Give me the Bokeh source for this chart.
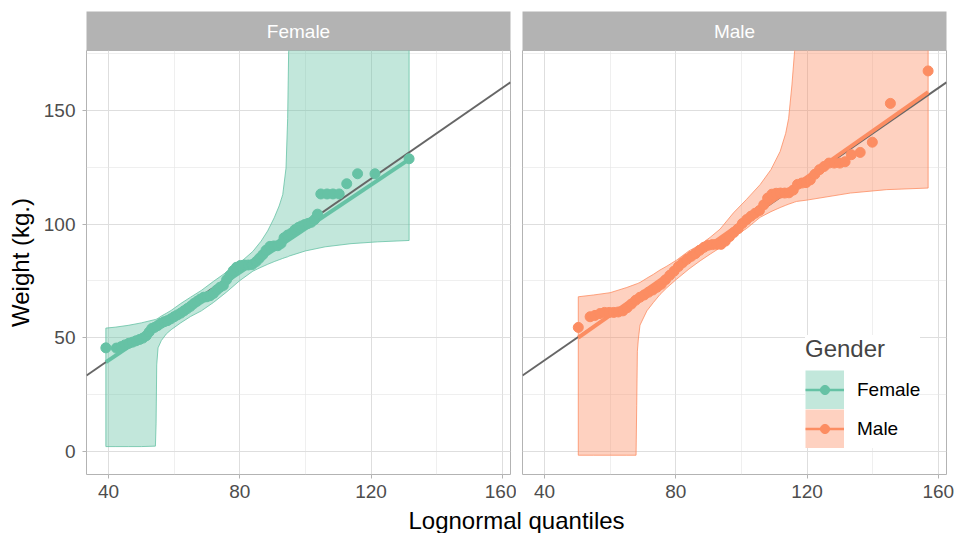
from bokeh.plotting import figure
from bokeh.layouts import column, row
from bokeh.models import Range1d, FixedTicker, Legend, LegendItem
from bokeh.embed import file_html
from bokeh.resources import INLINE
from bokeh.core.properties import value

FONT = "Liberation Sans"
NAN = float("nan")

genders = ["Female", "Male"]
colors = {"Female": "#66C2A5", "Male": "#FC8D62"}

x_ticks = [40, 80, 120, 160]
x_minor = [60, 100, 140]
y_ticks = [0, 50, 100, 150]
y_minor = [25, 75, 125, 175]
x_limits = (33.3, 162.5)
y_limits = (-10.3, 176.5)

# identity reference line
ref_slope = 1.0
ref_intercept = 0.0

# ---- Female: lognormal theoretical quantiles vs sorted weights ----
female_x = [39.2, 42.4, 43.8, 45.0, 46.2, 47.3, 48.4, 49.5, 50.5, 51.5,
            52.4, 53.2, 54.0, 55.0, 56.0, 57.0, 58.0, 59.0, 60.0, 61.0,
            62.0, 63.0, 64.0, 65.0, 66.0, 67.0, 68.0, 69.0, 70.0, 71.0,
            72.0, 73.0, 74.0, 75.0, 76.0, 77.0, 78.0, 79.0, 80.2, 81.4,
            82.6, 83.8, 85.0, 86.0, 87.0, 88.0, 89.2, 90.4, 91.6, 92.6,
            93.5, 94.6, 95.7, 96.8, 97.8, 98.8, 99.8, 100.8, 101.8, 102.8,
            103.7, 104.7, 106.6, 108.4, 110.3, 112.6, 115.9, 121.2, 131.6]
female_y = [45.5, 45.4, 46.0, 46.8, 47.5, 48.0, 48.6, 49.2, 49.8, 50.8,
            52.5, 54.0, 54.5, 55.3, 56.3, 57.0, 57.5, 58.3, 59.2, 60.0,
            60.8, 61.8, 62.8, 63.8, 65.0, 66.0, 67.0, 67.8, 68.0, 68.5,
            69.5, 71.0, 72.2, 73.0, 75.5, 77.5, 79.5, 81.0, 81.8, 82.0,
            82.0, 82.2, 83.5, 85.0, 86.5, 88.5, 90.2, 90.4, 90.5, 91.5,
            94.0, 95.2, 96.0, 97.5, 98.5, 99.2, 99.8, 100.3, 100.8, 102.0,
            104.4, 113.3, 113.3, 113.3, 113.3, 117.8, 122.2, 122.2, 128.8]
female_fit = (1.3, 0.967)  # intercept, slope of the fitted qq line
female_band_x = [39.2, 42.0, 46.0, 50.0, 54.3, 54.5, 54.7, 55.1, 56.1, 57.6,
                 59.1, 62.0, 65.0, 68.3, 72.0, 75.9, 79.9, 84.0, 86.5, 88.5,
                 90.5, 92.0, 93.1, 94.1, 94.6, 94.9, 95.2, 100.0, 106.0, 113.9,
                 122.0, 131.6]
female_band_lower = [2.0, 2.0, 2.0, 2.0, 2.2, 12.0, 38.0, 45.5, 48.7, 51.6,
                     53.5, 56.5, 59.3, 61.8, 65.5, 70.0, 75.0, 79.3, 81.0, 82.3,
                     83.5, 84.3, 84.9, 85.4, 85.6, 85.8, 86.0, 88.2, 90.0, 91.4,
                     92.2, 92.8]
female_band_upper = [54.2, 54.6, 55.4, 56.5, 58.0, 58.1, 58.2, 58.5, 59.5, 60.7,
                     62.0, 65.0, 67.8, 70.8, 74.8, 78.8, 82.8, 88.0, 92.5, 97.0,
                     102.8, 108.0, 113.0, 124.7, 146.6, 176.0, 215.0, 300.0, 330.0, 360.0,
                     380.0, 400.0]

# ---- Male ----
male_x = [50.3, 53.9, 55.4, 56.9, 58.3, 59.7, 61.1, 62.5, 63.9, 65.2,
          66.5, 67.8, 69.1, 70.4, 71.7, 73.0, 74.3, 75.6, 76.9, 78.2,
          79.5, 80.8, 82.1, 83.4, 84.7, 86.0, 87.3, 88.6, 89.9, 91.2,
          92.5, 93.8, 95.1, 96.4, 97.7, 99.0, 100.3, 101.6, 102.9, 104.2,
          105.5, 106.8, 108.0, 109.3, 110.6, 111.9, 113.2, 114.5, 115.8, 117.1,
          118.4, 119.7, 121.0, 122.4, 123.8, 125.2, 126.7, 128.3, 130.0, 131.6,
          133.5, 136.2, 139.9, 145.4, 156.9]
male_y = [54.5, 59.2, 59.8, 60.6, 61.1, 61.1, 61.1, 61.3, 61.8, 63.2,
          64.8, 66.5, 67.8, 68.8, 70.0, 71.0, 72.2, 73.5, 75.5, 77.5,
          79.3, 81.3, 83.0, 84.5, 85.8, 87.0, 88.5, 89.8, 90.7, 91.0,
          91.1, 91.1, 92.5, 94.5, 96.3, 98.0, 100.3, 102.0, 103.5, 104.8,
          106.0, 108.5, 111.5, 113.2, 113.6, 113.7, 113.7, 113.8, 115.0, 117.5,
          118.1, 118.3, 119.5, 122.0, 124.0, 125.4, 126.9, 126.9, 126.9, 127.5,
          130.6, 131.6, 136.1, 153.2, 167.5]
male_fit = (-1.05, 1.015)
male_band_x = [50.3, 55.0, 60.0, 65.1, 67.9, 68.1, 68.3, 68.6, 69.1, 71.2,
               73.2, 75.2, 77.3, 80.3, 84.0, 87.4, 90.5, 93.5, 97.6, 101.5,
               105.7, 109.0, 111.8, 113.5, 114.4, 115.4, 116.2, 116.8, 120.0, 133.2,
               144.3, 156.9]
male_band_lower = [-1.8, -1.8, -1.8, -1.8, -1.8, 20.0, 44.0, 49.4, 55.5, 61.8,
                   65.5, 69.0, 72.0, 75.8, 80.2, 83.8, 86.8, 89.6, 94.5, 98.0,
                   103.0, 105.5, 107.3, 108.3, 108.8, 109.3, 109.7, 110.0, 110.6, 113.7,
                   115.2, 115.9]
male_band_upper = [68.0, 68.8, 69.8, 72.1, 73.6, 73.7, 73.8, 74.0, 74.3, 76.2,
                   77.9, 79.8, 81.5, 84.2, 88.2, 90.9, 94.2, 97.8, 105.0, 110.8,
                   117.4, 124.0, 132.0, 140.0, 146.6, 161.3, 176.0, 200.0, 280.0, 340.0,
                   380.0, 400.0]

data = {
    "Female": (female_x, female_y, female_fit, female_band_x, female_band_lower, female_band_upper),
    "Male": (male_x, male_y, male_fit, male_band_x, male_band_lower, male_band_upper),
}

FRAME_W = 424
FRAME_H = 424
BOTTOM = 33
LEFT_OUT = 86   # space left of the left panel (page margin included)
GAP = 6
RIGHT_OUT = 8


def style_axes(p):
    for ax in p.axis:
        ax.axis_line_color = None
        ax.major_tick_line_color = "#B3B3B3"
        ax.major_tick_out = 4
        ax.major_tick_in = 0
        ax.minor_tick_line_color = None
        ax.major_label_text_font = FONT
        ax.major_label_text_font_size = "19px"
        ax.major_label_text_color = "#4D4D4D"
        ax.axis_label_text_font = FONT
        ax.axis_label_text_font_style = "normal"
        ax.axis_label_text_font_size = "24px"
        ax.axis_label_text_color = "black"
    p.xaxis.major_label_standoff = 6
    p.yaxis.major_label_standoff = 7
    for g in (p.xgrid, p.ygrid):
        g.grid_line_color = "#DEDEDE"
        g.grid_line_width = 1
        g.minor_grid_line_color = "#E4E4E4"
        g.minor_grid_line_width = 0.6


def make_panel(name, width, left, right, show_y):
    qx, qy, fit, bx, blo, bhi = data[name]
    c = colors[name]
    p = figure(width=width, height=FRAME_H + BOTTOM,
               x_range=Range1d(*x_limits), y_range=Range1d(*y_limits),
               output_backend="svg", toolbar_location=None,
               min_border_left=left, min_border_right=right,
               min_border_top=0, min_border_bottom=BOTTOM)
    p.outline_line_color = "#B3B3B3"
    p.outline_line_width = 1
    p.background_fill_color = "white"
    p.border_fill_color = "white"
    p.xaxis.ticker = FixedTicker(ticks=x_ticks, minor_ticks=x_minor)
    p.yaxis.ticker = FixedTicker(ticks=y_ticks, minor_ticks=y_minor)
    style_axes(p)
    if show_y:
        p.yaxis.axis_label = "Weight (kg.)"
        p.yaxis.axis_label_standoff = 7
    else:
        p.yaxis.visible = False

    p.patch(x=bx + bx[::-1], y=blo + bhi[::-1],
            fill_color=c, fill_alpha=0.4, line_color=c, line_width=0.8)
    lx = list(x_limits)
    p.line(x=lx, y=[ref_intercept + ref_slope * v for v in lx],
           line_color="#666666", line_width=2)
    fx = [min(qx), max(qx)]
    p.line(x=fx, y=[fit[0] + fit[1] * v for v in fx], line_color=c, line_width=4)
    p.scatter(x=qx, y=qy, size=10, fill_color=c, line_color=c)
    return p


def make_strip(name, width, left, right):
    s = figure(width=width, height=50, x_range=Range1d(0, 1), y_range=Range1d(0, 1),
               output_backend="svg", toolbar_location=None,
               min_border_left=left, min_border_right=right,
               min_border_top=11, min_border_bottom=0,
               x_axis_location=None, y_axis_location=None)
    s.grid.visible = False
    s.outline_line_color = None
    s.background_fill_color = "#B3B3B3"
    s.border_fill_color = "white"
    s.text(x=[0.5], y=[0.5], text=[name], text_align="center", text_baseline="middle",
           text_color="white", text_font=value(FONT), text_font_size="19px")
    return s


LEFT_W = LEFT_OUT + FRAME_W + GAP
RIGHT_W = GAP + FRAME_W + RIGHT_OUT

p_f = make_panel("Female", LEFT_W, LEFT_OUT, GAP, True)
p_m = make_panel("Male", RIGHT_W, GAP, RIGHT_OUT, False)
s_f = make_strip("Female", LEFT_W, LEFT_OUT, GAP)
s_m = make_strip("Male", RIGHT_W, GAP, RIGHT_OUT)

# legend key glyphs (single NaN point: never drawn in the panel, only in the legend)
key_box, key_line, key_pt = {}, {}, {}
for g in genders:
    c = colors[g]
    key_box[g] = p_m.line(x=[NAN], y=[NAN], line_color=c, line_alpha=0.4,
                          line_width=39, line_cap="butt")
    key_line[g] = p_m.line(x=[NAN], y=[NAN], line_color=c, line_width=2.5)
    key_pt[g] = p_m.scatter(x=[NAN], y=[NAN], size=10, fill_color=c, line_color=c)

LEG_X, LEG_Y, PAD = 283, 26, 12
leg_a = Legend(items=[LegendItem(label=g, renderers=[key_box[g], key_line[g]]) for g in genders],
               title="Gender", location=(LEG_X, LEG_Y), margin=0, padding=PAD,
               glyph_width=39, glyph_height=39, spacing=0, label_standoff=13,
               label_text_font=FONT, label_text_font_size="19px", label_text_color="black",
               title_text_font=FONT, title_text_font_size="24px", title_text_font_style="normal",
               title_standoff=7, background_fill_color="white", background_fill_alpha=1,
               border_line_color=None)
leg_b = Legend(items=[LegendItem(label="", renderers=[key_pt[g]]) for g in genders],
               location=(LEG_X + 8, LEG_Y), margin=0, padding=PAD,
               glyph_width=23, glyph_height=39, spacing=0, label_standoff=0,
               label_text_font=FONT, label_text_font_size="19px",
               background_fill_alpha=0, border_line_color=None)
p_m.add_layout(leg_a)
p_m.add_layout(leg_b)

TOTAL_W = LEFT_W + RIGHT_W
t = figure(width=TOTAL_W, height=26, x_range=Range1d(0, 1), y_range=Range1d(0, 1),
           output_backend="svg", toolbar_location=None,
           min_border_left=LEFT_OUT, min_border_right=RIGHT_OUT,
           min_border_top=0, min_border_bottom=0,
           x_axis_location=None, y_axis_location=None)
t.grid.visible = False
t.outline_line_color = None
t.background_fill_color = "white"
t.border_fill_color = "white"
t.text(x=[0.5], y=[0.5], text=["Lognormal quantiles"], text_align="center",
       text_baseline="middle", text_color="black", text_font=value(FONT),
       text_font_size="24px")

layout = column(row(s_f, s_m, spacing=0), row(p_f, p_m, spacing=0), t, spacing=0)
open("out.html", "w").write(file_html(layout, INLINE))
